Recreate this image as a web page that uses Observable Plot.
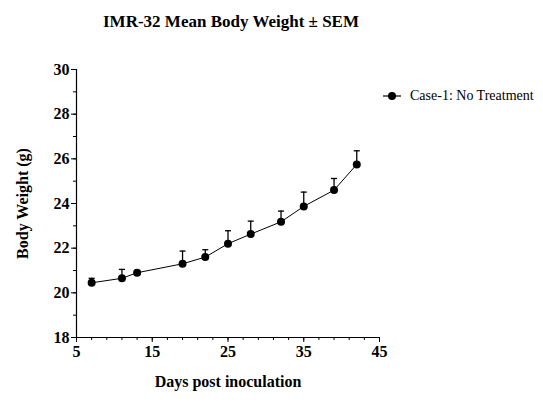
<!DOCTYPE html>
<html>
<head>
<meta charset="utf-8">
<script src="https://cdn.jsdelivr.net/npm/d3@7"></script>
<script src="https://cdn.jsdelivr.net/npm/@observablehq/plot@0.6"></script>
<style>
  body { margin: 0; background: #fff; }
  #wrap { position: relative; width: 543px; height: 419px; }
  #legend { position: absolute; left: 382px; top: 88px; font-family: "Liberation Serif", serif; font-size: 14px; color: #000; display: flex; align-items: center; }
  #legend svg { margin-right: 8px; }
</style>
</head>
<body>
<div id="wrap"><div id="legend"><svg width="20" height="12"><line x1="1" y1="6" x2="19" y2="6" stroke="#000" stroke-width="1.2"/><circle cx="10" cy="6" r="4" fill="#000"/></svg><span>Case-1: No Treatment</span></div></div>
<script>
const days = [7, 11, 13, 19, 22, 25, 28, 32, 35, 39, 42];
const weights = [20.45, 20.65, 20.9, 21.3, 21.6, 22.2, 22.63, 23.18, 23.87, 24.6, 25.75];
const sems = [0.2, 0.4, 0.08, 0.57, 0.33, 0.58, 0.58, 0.48, 0.64, 0.52, 0.61];
const xMajor = [5, 15, 25, 35, 45];
const xMinor = d3.range(5, 46, 2);
const yMajor = [18, 20, 22, 24, 26, 28, 30];
const yMinor = d3.range(18, 31, 1);
const title = "IMR-32 Mean Body Weight ± SEM";
const xLabel = "Days post inoculation";
const yLabel = "Body Weight (g)";

const data = days.map((d, i) => ({day: d, w: weights[i], sem: sems[i]}));
const capHalf = 0.4;

const chart = Plot.plot({
  width: 543,
  height: 419,
  marginLeft: 76,
  marginRight: 164,
  marginTop: 69,
  marginBottom: 82,
  style: {fontFamily: "Liberation Serif, serif", fontSize: "16px", fontWeight: "bold", color: "#000", background: "#fff"},
  x: {domain: [5, 45]},
  y: {domain: [18, 30]},
  marks: [
    Plot.axisX({ticks: xMinor, tickSize: 3, text: null, label: null}),
    Plot.axisX({ticks: xMajor, tickSize: 5, tickPadding: 3, label: null}),
    Plot.axisY({ticks: yMinor, tickSize: 3, text: null, label: null}),
    Plot.axisY({ticks: yMajor, tickSize: 5, tickPadding: 2, label: null}),
    Plot.ruleX([5], {stroke: "#000", strokeWidth: 1.2}),
    Plot.ruleY([18], {stroke: "#000", strokeWidth: 1.2}),
    Plot.ruleX(data, {x: "day", y1: "w", y2: d => d.w + d.sem, stroke: "#000", strokeWidth: 1.3}),
    Plot.link(data, {x1: d => d.day - capHalf, x2: d => d.day + capHalf, y1: d => d.w + d.sem, y2: d => d.w + d.sem, stroke: "#000", strokeWidth: 1.3}),
    Plot.line(data, {x: "day", y: "w", stroke: "#000", strokeWidth: 1}),
    Plot.dot(data, {x: "day", y: "w", r: 4, fill: "#000"}),
    Plot.text([title], {frameAnchor: "top", lineAnchor: "middle", textAnchor: "middle", dy: -48, dx: 3, fontSize: 17, fontWeight: "bold"}),
    Plot.text([xLabel], {frameAnchor: "bottom", lineAnchor: "middle", textAnchor: "middle", dy: 44, fontSize: 16, fontWeight: "bold"}),
    Plot.text([yLabel], {frameAnchor: "left", lineAnchor: "middle", textAnchor: "middle", dx: -54, rotate: -90, fontSize: 16, fontWeight: "bold"})
  ]
});
document.getElementById("wrap").prepend(chart);
chart.style.position = "absolute";
chart.style.left = "0";
chart.style.top = "0";
</script>
</body>
</html>
